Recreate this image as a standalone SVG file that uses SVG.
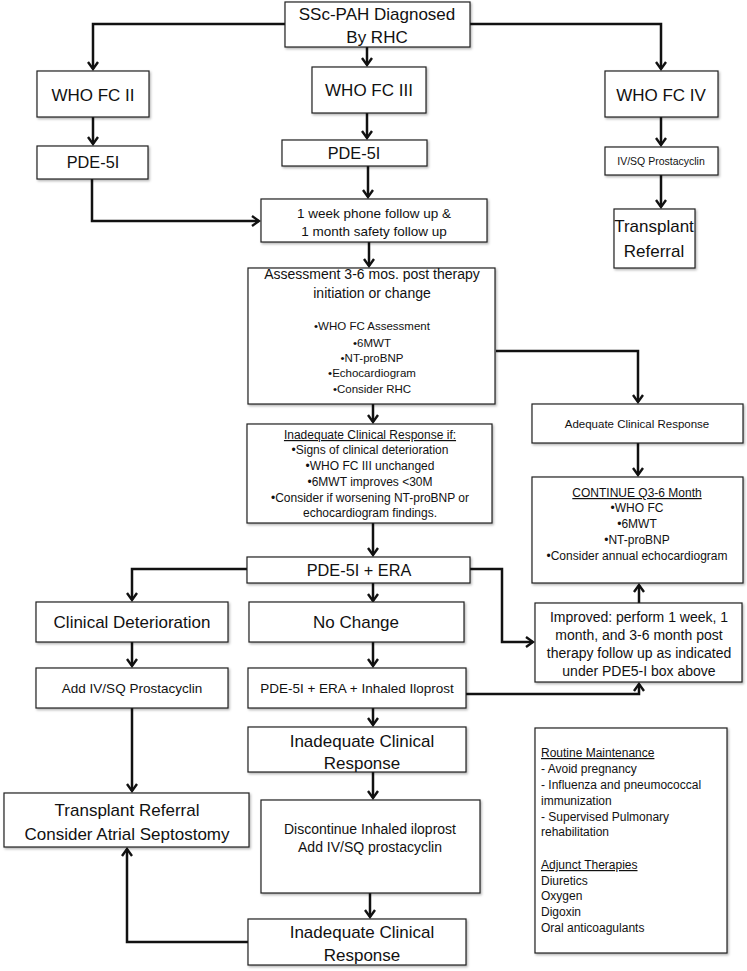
<svg xmlns="http://www.w3.org/2000/svg" width="747" height="971" viewBox="0 0 747 971">
<style>
.b{fill:#fff;stroke:#222;stroke-width:1.2;filter:url(#sh)}
text{font-family:"Liberation Sans",Arial,sans-serif;fill:#111;text-anchor:middle}
.f17{font-size:17px}
.f16{font-size:16.3px}
.f14{font-size:14px}
.f13{font-size:13.5px}
.f12{font-size:12px}
.f11{font-size:11.5px}
.f10{font-size:10.5px}
.l{text-anchor:start}
.u{text-decoration:underline}
.c{fill:none;stroke:#111;stroke-width:2.5;marker-end:url(#arr)}
</style>
<defs>
<filter id="sh" x="-5%" y="-5%" width="115%" height="125%">
<feDropShadow dx="1.2" dy="1.5" stdDeviation="1" flood-color="#000" flood-opacity="0.3"/>
</filter>
<marker id="arr" viewBox="-10 -7 12 14" refX="0" refY="0" markerWidth="12" markerHeight="14" markerUnits="userSpaceOnUse" orient="auto">
<path d="M-7,-5 L0,0 L-7,5" fill="none" stroke="#111" stroke-width="2.4"/>
</marker>
</defs>
<rect width="747" height="971" fill="#fff"/>

<g id="connectors">
<path class="c" d="M285,24 H93 V69"/>
<path class="c" d="M470,24 H661 V69"/>
<path class="c" d="M367,47 V65"/>
<path class="c" d="M93,117 V144"/>
<path class="c" d="M367,113 V138"/>
<path class="c" d="M661,117 V145"/>
<path class="c" d="M92,179 V221 H259"/>
<path class="c" d="M368,166 V197"/>
<path class="c" d="M661,175 V207"/>
<path class="c" d="M369,242 V266"/>
<path class="c" d="M496,351 H638 V402"/>
<path class="c" d="M373,404 V422"/>
<path class="c" d="M638,443 V475"/>
<path class="c" d="M373,523 V555"/>
<path class="c" d="M247,569 H132 V600"/>
<path class="c" d="M373,583 V601"/>
<path class="c" d="M470,569 H502 V642 H533"/>
<path class="c" d="M639,603 V585"/>
<path class="c" d="M132,642 V666"/>
<path class="c" d="M373,642 V666"/>
<path class="c" d="M466,694 H639 V684"/>
<path class="c" d="M132,708 V791"/>
<path class="c" d="M373,708 V725"/>
<path class="c" d="M373,772 V798"/>
<path class="c" d="M370,893 V917"/>
<path class="c" d="M248,942 H127 V849"/>
</g>

<g id="n_top"><rect class="b" x="285" y="2" width="185" height="45"/>
<text class="f17" x="377" y="20">SSc-PAH Diagnosed</text>
<text class="f17" x="377" y="43">By RHC</text></g>

<g id="n_who2"><rect class="b" x="37" y="71" width="112" height="46"/>
<text class="f17" x="93" y="101">WHO FC II</text></g>
<g id="n_who3"><rect class="b" x="312" y="67" width="114" height="46"/>
<text class="f17" x="369" y="96">WHO FC III</text></g>
<g id="n_who4"><rect class="b" x="605" y="71" width="113" height="46"/>
<text class="f17" x="661" y="101">WHO FC IV</text></g>

<g id="n_pde_left"><rect class="b" x="37" y="146" width="111" height="33"/>
<text class="f16" x="93" y="168">PDE-5I</text></g>
<g id="n_pde_mid"><rect class="b" x="282" y="140" width="145" height="26"/>
<text class="f16" x="354" y="159">PDE-5I</text></g>
<g id="n_ivsq"><rect class="b" x="605" y="147" width="113" height="28"/>
<text class="f10" x="661" y="165">IV/SQ Prostacyclin</text></g>
<g id="n_transplant1"><rect class="b" x="614" y="209" width="81" height="59"/>
<text class="f17" x="654" y="232">Transplant</text>
<text class="f17" x="654" y="257">Referral</text></g>

<g id="n_week"><rect class="b" x="261" y="199" width="226" height="43"/>
<text class="f13" x="374" y="218">1 week phone follow up &amp;</text>
<text class="f13" x="374" y="236">1 month safety follow up</text></g>

<g id="n_assess"><rect class="b" x="248" y="268" width="247" height="136"/>
<text class="f14" x="372" y="279">Assessment 3-6 mos. post therapy</text>
<text class="f14" x="372" y="298">initiation or change</text>
<text class="f11" x="372" y="330">•WHO FC Assessment</text>
<text class="f11" x="372" y="347">•6MWT</text>
<text class="f11" x="372" y="362">•NT-proBNP</text>
<text class="f11" x="372" y="377">•Echocardiogram</text>
<text class="f11" x="372" y="393">•Consider RHC</text></g>

<g id="n_adequate"><rect class="b" x="532" y="404" width="211" height="39"/>
<text class="f11" x="637" y="428">Adequate Clinical Response</text></g>

<g id="n_inadequate_if"><rect class="b" x="247" y="424" width="245" height="99"/>
<text class="f12 u" x="370" y="439">Inadequate Clinical Response if:</text>
<text class="f12" x="370" y="454">•Signs of clinical deterioration</text>
<text class="f12" x="370" y="470">•WHO FC III unchanged</text>
<text class="f12" x="370" y="486">•6MWT improves &lt;30M</text>
<text class="f12" x="370" y="502">•Consider if worsening NT-proBNP or</text>
<text class="f12" x="370" y="517">echocardiogram findings.</text></g>

<g id="n_continue"><rect class="b" x="532" y="477" width="211" height="106"/>
<text class="f12 u" x="637" y="497">CONTINUE Q3-6 Month</text>
<text class="f12" x="637" y="512">•WHO FC</text>
<text class="f12" x="637" y="528">•6MWT</text>
<text class="f12" x="637" y="544">•NT-proBNP</text>
<text class="f12" x="637" y="560">•Consider annual echocardiogram</text></g>

<g id="n_pde_era"><rect class="b" x="247" y="557" width="223" height="26"/>
<text class="f16" x="359" y="576">PDE-5I + ERA</text></g>

<g id="n_clindet"><rect class="b" x="36" y="602" width="192" height="40"/>
<text class="f17" x="132" y="628">Clinical Deterioration</text></g>
<g id="n_nochange"><rect class="b" x="249" y="602" width="215" height="40"/>
<text class="f17" x="356" y="628">No Change</text></g>

<g id="n_improved"><rect class="b" x="535" y="603" width="207" height="79"/>
<text class="f14" x="639" y="622">Improved: perform 1 week, 1</text>
<text class="f14" x="639" y="640">month, and 3-6 month post</text>
<text class="f14" x="639" y="658">therapy follow up as indicated</text>
<text class="f14" x="639" y="676">under PDE5-I box above</text></g>

<g id="n_addiv"><rect class="b" x="36" y="668" width="192" height="40"/>
<text class="f13" x="132" y="693">Add IV/SQ Prostacyclin</text></g>
<g id="n_iloprost"><rect class="b" x="248" y="668" width="218" height="40"/>
<text class="f13" x="357" y="693">PDE-5I + ERA + Inhaled Iloprost</text></g>

<g id="n_inad1"><rect class="b" x="248" y="727" width="218" height="45"/>
<text class="f17" x="362" y="747">Inadequate Clinical</text>
<text class="f17" x="362" y="769">Response</text></g>

<g id="n_transplant2"><rect class="b" x="4" y="793" width="245" height="54"/>
<text class="f17" x="127" y="816">Transplant Referral</text>
<text class="f17" x="127" y="840">Consider Atrial Septostomy</text></g>

<g id="n_discontinue"><rect class="b" x="261" y="800" width="219" height="93"/>
<text class="f14" x="370" y="834">Discontinue Inhaled iloprost</text>
<text class="f14" x="370" y="852">Add IV/SQ prostacyclin</text></g>

<g id="n_inad2"><rect class="b" x="248" y="919" width="218" height="46"/>
<text class="f17" x="362" y="938">Inadequate Clinical</text>
<text class="f17" x="362" y="961">Response</text></g>

<g id="n_routine"><rect class="b" x="535" y="728" width="192" height="225"/>
<text class="f12 l u" x="541" y="757">Routine Maintenance</text>
<text class="f12 l" x="541" y="773">- Avoid pregnancy</text>
<text class="f12 l" x="541" y="789">- Influenza and pneumococcal</text>
<text class="f12 l" x="541" y="805">immunization</text>
<text class="f12 l" x="541" y="821">- Supervised Pulmonary</text>
<text class="f12 l" x="541" y="836">rehabilitation</text>
<text class="f12 l u" x="541" y="869">Adjunct Therapies</text>
<text class="f12 l" x="541" y="885">Diuretics</text>
<text class="f12 l" x="541" y="900">Oxygen</text>
<text class="f12 l" x="541" y="916">Digoxin</text>
<text class="f12 l" x="541" y="932">Oral anticoagulants</text></g>
</svg>
